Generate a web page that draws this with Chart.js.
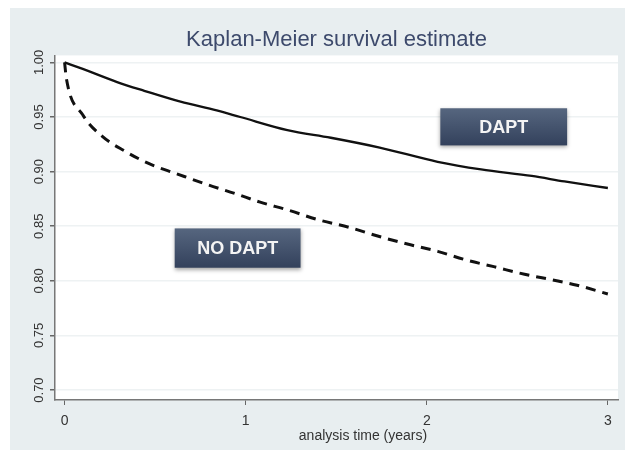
<!DOCTYPE html>
<html>
<head>
<meta charset="utf-8">
<script src="https://cdn.jsdelivr.net/npm/chart.js@4.4.1/dist/chart.umd.min.js"></script>
<style>
    body { margin: 0; background: #fff; }
    #wrap { width: 629px; height: 458px; }
</style>
</head>
<body>
<div id="wrap"><canvas id="km-chart"></canvas></div>
<script>
// Kaplan-Meier survival estimates
const daptTime = [0, 0.1, 0.29, 0.44, 0.64, 0.84, 0.97, 1.23, 1.47, 1.74, 2.06, 2.3, 2.58, 2.76, 3.0];
const daptSurv = [1.000, 0.994, 0.982, 0.974, 0.964, 0.956, 0.950, 0.938, 0.931, 0.922, 0.909, 0.902, 0.896, 0.891, 0.885];

const noDaptTime = [0, 0.01, 0.1, 0.21, 0.33, 0.47, 0.62, 0.79, 0.94, 1.08, 1.23, 1.4, 1.57, 1.75, 1.91, 2.06, 2.22, 2.37, 2.54, 2.69, 2.83, 3.0];
const noDaptSurv = [1.000, 0.985, 0.952, 0.932, 0.919, 0.907, 0.898, 0.888, 0.880, 0.872, 0.865, 0.856, 0.849, 0.840, 0.833, 0.827, 0.819, 0.813, 0.806, 0.801, 0.796, 0.788];

const xTickValues = [0, 1, 2, 3];
const yTickValues = [0.70, 0.75, 0.80, 0.85, 0.90, 0.95, 1.00];

const chartTitle = 'Kaplan-Meier survival estimate';
const xAxisTitle = 'analysis time (years)';
const groupLabels = ['DAPT', 'NO DAPT'];

const toPoints = (xs, ys) => xs.map((x, i) => ({ x: x, y: ys[i] }));

// background frame, y tick labels, x title and the two group boxes
const stataLook = {
    id: 'stataLook',
    beforeDraw(chart) {
        const { ctx, chartArea: a } = chart;
        ctx.save();
        ctx.fillStyle = '#ffffff';
        ctx.fillRect(0, 0, chart.width, chart.height);
        ctx.fillStyle = '#e8eef0';
        ctx.fillRect(10, 8, 615, 442);
        ctx.fillStyle = '#ffffff';
        ctx.fillRect(a.left, a.top, a.right - a.left, a.bottom - a.top);
        ctx.restore();
    },
    afterDraw(chart) {
        const { ctx, scales } = chart;
        const xs = scales.x, ys = scales.y;
        ctx.save();

        // rotated y tick labels
        ctx.fillStyle = '#333';
        ctx.font = '13px "Liberation Sans", Arial, sans-serif';
        ctx.textAlign = 'center';
        ctx.textBaseline = 'middle';
        yTickValues.forEach(v => {
            ctx.save();
            ctx.translate(39, ys.getPixelForValue(v));
            ctx.rotate(-Math.PI / 2);
            ctx.fillText(v.toFixed(2), 0, 0);
            ctx.restore();
        });

        // x axis title (Stata puts it a bit right of centre)
        ctx.font = '14px "Liberation Sans", Arial, sans-serif';
        ctx.fillText(xAxisTitle, 363, 436);

        // group boxes
        const boxes = [
            { text: groupLabels[0], x0: 2.075, x1: 2.775, y0: 0.958, y1: 0.924 },
            { text: groupLabels[1], x0: 0.608, x1: 1.303, y0: 0.848, y1: 0.812 }
        ];
        boxes.forEach(b => {
            const l = xs.getPixelForValue(b.x0), r = xs.getPixelForValue(b.x1);
            const t = ys.getPixelForValue(b.y0), btm = ys.getPixelForValue(b.y1);
            ctx.save();
            ctx.shadowColor = 'rgba(0,0,0,0.35)';
            ctx.shadowBlur = 4;
            ctx.shadowOffsetY = 2;
            const g = ctx.createLinearGradient(0, t, 0, btm);
            g.addColorStop(0, '#56667f');
            g.addColorStop(1, '#33415c');
            ctx.fillStyle = g;
            ctx.fillRect(l, t, r - l, btm - t);
            ctx.restore();
            ctx.fillStyle = '#f4f4f4';
            ctx.font = 'bold 18px "Liberation Sans", Arial, sans-serif';
            ctx.textAlign = 'center';
            ctx.textBaseline = 'middle';
            ctx.fillText(b.text, (l + r) / 2, (t + btm) / 2 + 1);
        });
        ctx.restore();
    }
};

const ctx = document.getElementById('km-chart').getContext('2d');

new Chart(ctx, {
    type: 'line',
    data: {
        datasets: [
            {
                label: groupLabels[0],
                data: toPoints(daptTime, daptSurv),
                borderColor: '#111',
                borderWidth: 2.3,
                pointRadius: 0,
                cubicInterpolationMode: 'monotone',
                fill: false,
            },
            {
                label: groupLabels[1],
                data: toPoints(noDaptTime, noDaptSurv),
                borderColor: '#111',
                borderWidth: 3,
                borderDash: [10, 7],
                pointRadius: 0,
                cubicInterpolationMode: 'monotone',
                fill: false,
            },
        ],
    },
    options: {
        responsive: true,
        maintainAspectRatio: false,
        animation: false,
        layout: {
            padding: { left: 0, right: 11, top: 0, bottom: 0 },
        },
        plugins: {
            legend: { display: false },
            tooltip: { enabled: false },
            title: {
                display: true,
                text: chartTitle,
                fullSize: false,
                color: '#3d4a6c',
                font: { family: '"Liberation Sans", Arial, sans-serif', size: 22, weight: 'normal' },
                padding: { top: 27, bottom: 2 },
            },
        },
        scales: {
            x: {
                type: 'linear',
                min: -0.053,
                max: 3.056,
                afterBuildTicks: (scale) => { scale.ticks = xTickValues.map(v => ({ value: v })); },
                afterFit: (scale) => { scale.height = 58; },
                grid: {
                    drawOnChartArea: false,
                    tickLength: 5,
                    tickColor: '#666',
                },
                border: { color: '#777', width: 1.5 },
                ticks: {
                    color: '#333',
                    padding: 8,
                    font: { family: '"Liberation Sans", Arial, sans-serif', size: 14 },
                    callback: (v) => String(v),
                },
            },
            y: {
                type: 'linear',
                min: 0.6909,
                max: 1.0064,
                afterBuildTicks: (scale) => { scale.ticks = yTickValues.map(v => ({ value: v })); },
                afterFit: (scale) => { scale.width = 55; },
                grid: {
                    color: '#eef2f3',
                    lineWidth: 1.5,
                    tickLength: 5,
                    tickColor: '#666',
                },
                border: { color: '#777', width: 1.5 },
                ticks: { display: false },
            },
        },
    },
    plugins: [stataLook],
});
</script>
</body>
</html>
